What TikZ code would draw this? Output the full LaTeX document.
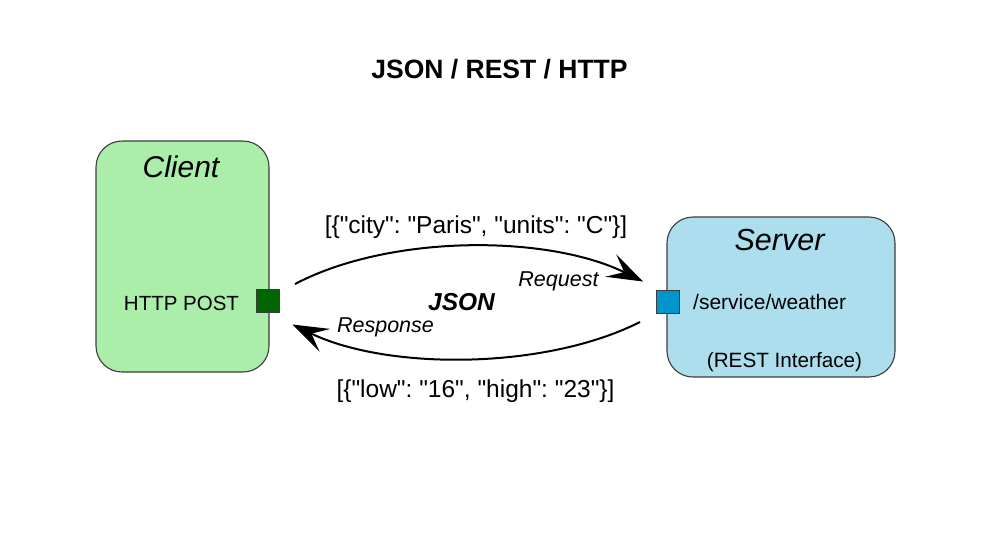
\documentclass[tikz,border=0pt]{standalone}
\usepackage{fontspec}
\setmainfont{Liberation Sans}[Ligatures=TeXOff]
\usetikzlibrary{arrows.meta}
\frenchspacing
\definecolor{clientfill}{RGB}{170,238,170}
\definecolor{serverfill}{RGB}{173,222,238}
\definecolor{portgreen}{RGB}{0,100,0}
\definecolor{portblue}{RGB}{0,150,205}
\definecolor{edgegray}{RGB}{60,60,60}
\tikzset{
  box/.style={draw=edgegray, line width=1.1pt, rounded corners=26pt, inner sep=0pt},
  port/.style={draw=edgegray, line width=1pt, minimum size=23pt, inner sep=0pt},
  txt/.style={anchor=base, inner sep=0pt},
  arr/.style={line width=2pt, -{Stealth[length=36pt,width=25pt,inset=15pt]}},
}
\begin{document}
\begin{tikzpicture}[x=1pt,y=-1pt]
\useasboundingbox (0,0) rectangle (984,542);
\node[box, fill=clientfill, minimum width=173pt, minimum height=231pt] (client) at (182.5,256.5) {};
\node[box, fill=serverfill, minimum width=228pt, minimum height=160pt] (server) at (781,297) {};
\node[port, fill=portgreen] (csq) at (267.5,301) {};
\node[port, fill=portblue] (ssq) at (668,301.5) {};

\node[txt, font=\bfseries\fontsize{26.5}{30}\selectfont] (title) at (499.5,78) {JSON / REST / HTTP};
\node[txt, font=\itshape\fontsize{30}{34}\selectfont] (clientlbl) at (181,177) {Client};
\node[txt, font=\fontsize{20.5}{24}\selectfont] (post) at (181.5,310) {HTTP POST};
\node[txt, font=\itshape\fontsize{30.5}{34}\selectfont] (serverlbl) at (779.5,250) {Server};
\node[txt, anchor=base west, font=\fontsize{21}{24}\selectfont] (svc) at (693,309) {/service/weather};
\node[txt, font=\fontsize{20.7}{24}\selectfont] (rest) at (784.5,367) {(REST Interface)};

\node[txt, font=\fontsize{24.5}{28}\selectfont] (reqjson) at (476,233) {[\{"city": "Paris", "units": "C"\}]};
\node[txt, font=\itshape\fontsize{21.5}{24}\selectfont] (reqlbl) at (558.5,286) {Request};
\node[txt, font=\bfseries\itshape\fontsize{24.5}{28}\selectfont] (jsonlbl) at (461.5,310) {JSON};
\node[txt, font=\itshape\fontsize{21.5}{24}\selectfont] (resplbl) at (385.5,332) {Response};
\node[txt, font=\fontsize{24.5}{28}\selectfont] (respjson) at (475.5,397) {[\{"low": "16", "high": "23"\}]};

\draw[arr] ([shift={(27.5,-17)}]csq.center) .. controls +(95,-50) and +(-95,-47) .. ([shift={(-25,-20)}]ssq.center);
\draw[arr] ([shift={(-28,20.5)}]ssq.center) .. controls +(-95,48) and +(95,46) .. ([shift={(25,23.5)}]csq.center);
\end{tikzpicture}
\end{document}
